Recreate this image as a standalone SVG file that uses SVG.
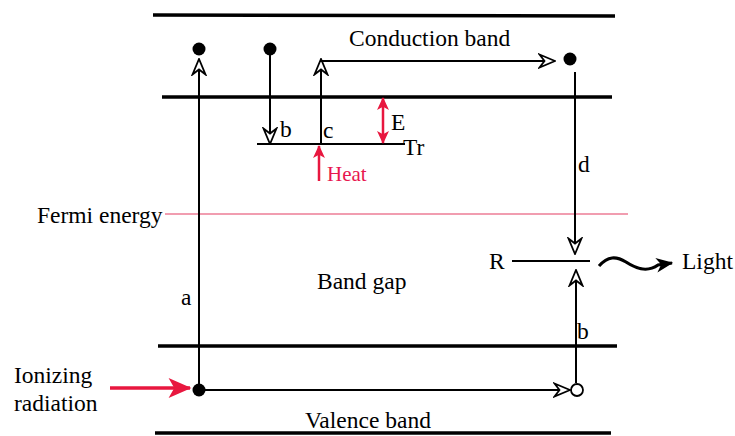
<svg xmlns="http://www.w3.org/2000/svg" width="735" height="436" viewBox="0 0 735 436">
<defs>
<style>
.band{stroke:#000;stroke-width:3.5;fill:none}
.ln{stroke:#000;stroke-width:2;fill:none}
.red{stroke:#e8173f;stroke-width:2.5;fill:none}
.t{font-family:'Liberation Serif','Times New Roman',serif;font-size:23.5px;fill:#000}
.tr{font-family:'Liberation Serif','Times New Roman',serif;font-size:21px;fill:#e8174f}
.dot{fill:#000}
</style>
<marker id="open" viewBox="0 0 18 16" markerWidth="18" markerHeight="16" refX="17" refY="8" orient="auto" markerUnits="userSpaceOnUse">
<path d="M1.5,1.5 L17,8 L1.5,14.5 L6.5,8 Z" fill="#fff" stroke="#000" stroke-width="1.8" stroke-linejoin="miter"/>
</marker>
<marker id="redh" viewBox="0 0 12 12" markerWidth="14" markerHeight="13" refX="11" refY="6" orient="auto-start-reverse" markerUnits="userSpaceOnUse">
<path d="M0,0.5 L12,6 L0,11.5 L3,6 Z" fill="#e8173f"/>
</marker>
<marker id="redbig" viewBox="0 0 16 14" markerWidth="24" markerHeight="20" refX="15" refY="7" orient="auto" markerUnits="userSpaceOnUse">
<path d="M0,0 L16,7 L0,14 L4,7 Z" fill="#e8173f"/>
</marker>
<marker id="blk" viewBox="0 0 14 12" markerWidth="17" markerHeight="15" refX="13" refY="6" orient="auto" markerUnits="userSpaceOnUse">
<path d="M0,0 L14,6 L0,12 L4,6 Z" fill="#000"/>
</marker>
</defs>

<g id="bands">
<line class="band" x1="153" y1="15" x2="615" y2="16"/>
<line class="band" x1="162" y1="97" x2="612" y2="97"/>
<line class="band" x1="158" y1="346" x2="617" y2="346"/>
<line class="band" x1="155" y1="433" x2="611" y2="433"/>
<line x1="165" y1="214" x2="628" y2="214" stroke="#ec7d96" stroke-width="1.5"/>
<line class="ln" x1="257" y1="144" x2="405" y2="144"/>
<line class="ln" x1="512" y1="261" x2="590" y2="261"/>
</g>

<g id="connectors">
<line class="ln" x1="199" y1="390" x2="199" y2="59" marker-end="url(#open)"/>
<line class="ln" x1="270" y1="50" x2="270" y2="144" marker-end="url(#open)"/>
<line class="ln" x1="321" y1="144" x2="321" y2="59" marker-end="url(#open)"/>
<line class="ln" x1="320" y1="61" x2="555" y2="61" marker-end="url(#open)"/>
<line class="ln" x1="575" y1="72" x2="575" y2="254" marker-end="url(#open)"/>
<line class="ln" x1="576" y1="383" x2="576" y2="270" marker-end="url(#open)"/>
<line class="ln" x1="199" y1="390" x2="570" y2="390" marker-end="url(#open)"/>
<line class="red" x1="383" y1="98" x2="383" y2="143" marker-start="url(#redh)" marker-end="url(#redh)"/>
<line class="red" x1="319" y1="181" x2="319" y2="146" marker-end="url(#redh)"/>
<line x1="110" y1="388" x2="190" y2="388" stroke="#e8173f" stroke-width="3.5" marker-end="url(#redbig)"/>
<path d="M599,266 C608,256 616,256 626,262 C638,270 648,272 658,265 L672,263" fill="none" stroke="#000" stroke-width="3.2" marker-end="url(#blk)"/>
</g>

<g id="particles">
<circle class="dot" cx="199" cy="49" r="6.5"/>
<circle class="dot" cx="270" cy="49" r="6.5"/>
<circle class="dot" cx="570" cy="59" r="6.5"/>
<circle class="dot" cx="199" cy="390" r="6.5"/>
<circle cx="577" cy="390" r="6" fill="#fff" stroke="#000" stroke-width="1.8"/>
</g>

<g id="labels">
<text class="t" x="349" y="46">Conduction band</text>
<text class="t" x="280" y="137">b</text>
<text class="t" x="323" y="138">c</text>
<text class="t" x="391" y="130">E</text>
<text class="t" x="403" y="155">Tr</text>
<text class="tr" x="327" y="181">Heat</text>
<text class="t" x="578" y="172">d</text>
<text class="t" x="37" y="223">Fermi energy</text>
<text class="t" x="489" y="269">R</text>
<text class="t" x="682" y="269">Light</text>
<text class="t" x="317" y="289">Band gap</text>
<text class="t" x="181" y="305">a</text>
<text class="t" x="577" y="339">b</text>
<text class="t" x="14" y="383">Ionizing</text>
<text class="t" x="14" y="411">radiation</text>
<text class="t" x="305" y="428">Valence band</text>
</g>
</svg>
